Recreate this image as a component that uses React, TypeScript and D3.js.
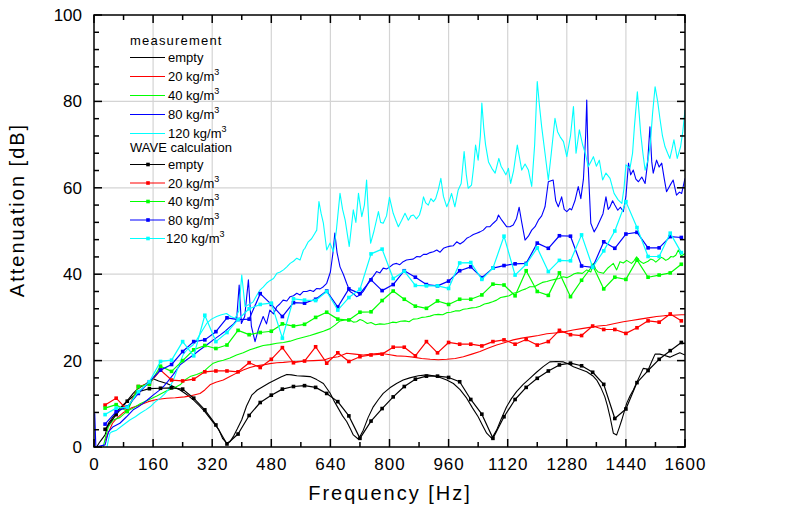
import React from 'react';
import * as d3 from 'd3';

// ---------- data ----------
const calcFreqs: number[] = d3.range(30, 1600, 30); // WAVE calculation grid: 30..1590 Hz

const calcEmpty = [4.1, 7.5, 10.6, 12.8, 13.5, 13.6, 13.7, 13.4, 11.3, 8.6,
  5.1, 0.7, 3.0, 7.3, 10.3, 12.0, 13.4, 14.0, 14.2, 13.8,
  12.4, 10.5, 7.2, 2.0, 6.0, 8.9, 11.6, 14.0, 15.7, 16.4,
  16.4, 16.1, 15.1, 11.0, 7.6, 2.0, 7.0, 11.0, 13.8, 15.9,
  17.6, 19.0, 19.4, 18.8, 17.3, 14.5, 6.6, 8.8, 14.9, 17.7,
  20.3, 22.3, 24.2];
const calc20 = [9.7, 11.3, 8.6, 14.0, 14.7, 17.8, 15.5, 15.3, 15.7, 17.4,
  17.6, 17.6, 17.4, 19.5, 18.4, 20.3, 23.0, 19.5, 19.9, 23.2,
  19.4, 21.8, 19.8, 20.9, 21.3, 21.5, 23.1, 23.1, 21.1, 24.4,
  21.8, 24.2, 23.8, 23.8, 23.4, 24.4, 24.8, 23.8, 24.9, 23.6,
  24.4, 27.0, 26.0, 25.8, 28.0, 27.2, 27.2, 26.3, 27.6, 29.2,
  28.9, 30.8, 29.2];
const calc40 = [9.0, 9.8, 8.2, 14.0, 14.5, 18.7, 17.5, 20.0, 22.5, 23.5,
  22.8, 23.6, 27.0, 26.0, 26.5, 26.8, 28.5, 28.0, 28.4, 30.0,
  31.2, 29.6, 29.4, 31.2, 31.3, 33.9, 36.1, 34.2, 32.6, 32.1,
  33.8, 33.0, 34.2, 34.2, 35.2, 37.7, 37.5, 35.0, 40.8, 36.0,
  35.1, 40.3, 34.8, 38.6, 42.0, 36.6, 39.3, 38.8, 43.3, 39.3,
  39.8, 40.3, 42.3];
const calc80 = [5.3, 8.2, 9.3, 12.4, 15.1, 17.8, 19.1, 22.1, 24.4, 24.8,
  26.7, 29.9, 29.5, 29.6, 35.5, 33.0, 30.2, 33.4, 33.3, 34.2,
  36.1, 32.4, 36.6, 35.5, 38.7, 36.2, 37.6, 40.8, 39.3, 37.6,
  37.3, 38.4, 40.8, 41.7, 39.2, 41.4, 42.0, 42.4, 42.5, 47.2,
  46.0, 48.9, 48.8, 41.9, 41.6, 47.5, 46.0, 49.3, 49.7, 46.1,
  46.1, 48.7, 48.5];
const calc120 = [7.5, 9.0, 9.2, 12.8, 15.1, 19.8, 20.1, 24.4, 21.1, 30.5,
  24.4, 26.5, 29.5, 32.0, 33.0, 33.3, 25.2, 34.3, 34.0, 33.9,
  36.0, 31.7, 34.6, 36.5, 44.7, 45.8, 39.0, 40.7, 37.4, 37.3,
  37.3, 36.7, 42.6, 42.7, 38.8, 41.4, 48.8, 39.8, 42.3, 46.1,
  40.6, 43.2, 43.1, 49.1, 41.6, 45.4, 50.0, 56.8, 50.8, 44.1,
  44.1, 49.5, 45.0];

// measurement: [frequency Hz, attenuation dB]
const measEmpty: [number, number][] = [[7,0],[16,1.2],[30,2.8],[39,5.5],[52,7.0],[70,9.0],[88,10.5],[106,12.4],[120,13.6],[140,14.6],[160,15.8],[175,15.3],[197,14.7],[215,14.0],[233,13.2],[250,12.2],[269,10.9],[285,9.6],[300,8.2],[320,6.0],[338,4.0],[348,2.0],[359,0.9],[368,1.2],[377,2.4],[388,4.2],[400,6.3],[413,9.5],[427,12.0],[442,13.2],[458,14.0],[474,14.8],[490,15.5],[506,16.2],[522,16.8],[535,16.7],[549,16.5],[567,16.4],[585,16.3],[603,15.6],[621,14.7],[639,12.5],[651,10.5],[661,9.0],[673,7.2],[684,5.9],[694,4.2],[702,2.8],[716,1.8],[729,3.9],[742,6.8],[756,9.3],[770,11.0],[783,12.4],[801,13.7],[819,14.7],[837,15.5],[855,16.0],[878,16.5],[901,16.7],[919,16.5],[937,16.1],[955,15.5],[973,14.7],[991,13.3],[1009,11.3],[1025,9.0],[1040,7.0],[1052,5.0],[1063,3.2],[1077,2.0],[1090,3.9],[1103,6.6],[1117,9.3],[1130,11.2],[1144,12.8],[1162,14.5],[1180,15.9],[1198,17.3],[1216,18.6],[1234,19.7],[1252,19.8],[1271,19.7],[1285,19.2],[1298,18.6],[1316,18.0],[1334,17.4],[1350,16.5],[1361,15.5],[1372,13.8],[1383,11.6],[1390,9.5],[1397,7.0],[1406,3.2],[1415,2.8],[1422,4.5],[1429,6.3],[1442,10.1],[1451,11.8],[1460,13.2],[1474,15.8],[1487,18.2],[1501,18.0],[1510,19.8],[1519,21.5],[1532,21.5],[1545,21.2],[1559,20.8],[1572,21.3],[1586,21.8],[1600,21.3]];

const meas20: [number, number][] = [[30,1.5],[40,3.5],[50,5.5],[60,6.5],[80,8.0],[100,9.0],[124,9.7],[147,10.5],[170,11.0],[197,11.3],[220,11.4],[245,11.6],[265,11.9],[287,12.4],[300,13.2],[314,14.4],[330,15.0],[350,15.5],[368,16.3],[386,17.1],[404,17.8],[422,18.4],[440,18.8],[458,19.0],[476,19.3],[495,19.5],[513,19.6],[531,19.75],[549,19.8],[567,19.9],[594,20.0],[621,20.1],[639,20.6],[661,20.9],[684,21.7],[706,21.5],[729,21.3],[751,21.5],[774,21.7],[797,21.4],[819,21.1],[842,21.0],[864,20.8],[887,20.5],[910,20.3],[932,20.2],[955,20.3],[978,20.5],[1000,20.9],[1023,21.5],[1045,22.1],[1068,22.9],[1090,23.6],[1113,24.2],[1135,24.8],[1158,25.2],[1180,25.5],[1203,25.8],[1226,26.2],[1248,26.4],[1270,26.6],[1297,27.1],[1320,27.4],[1342,27.7],[1365,28.0],[1388,28.2],[1410,28.6],[1433,29.0],[1455,29.3],[1478,29.6],[1500,29.9],[1523,30.2],[1545,30.4],[1568,30.5],[1590,30.6],[1600,30.6]];

const meas40: [number, number][] = [[25,0],[32,2.5],[39,4.7],[52,6.25],[70,6.8],[88,8.2],[106,9.0],[125,10.0],[150,11.0],[170,11.8],[197,13.0],[215,13.6],[233,14.4],[246,15.5],[260,16.3],[278,16.8],[296,17.4],[310,18.5],[323,19.4],[336,19.8],[350,20.1],[368,20.6],[386,21.3],[404,21.8],[422,22.5],[440,23.0],[458,23.5],[476,23.7],[495,24.0],[513,24.2],[531,24.5],[549,25.0],[567,25.4],[585,25.8],[603,26.3],[621,26.8],[639,27.4],[652,28.2],[666,29.2],[680,29.4],[693,29.4],[702,28.9],[711,29.0],[720,29.5],[729,29.2],[740,28.6],[750,28.8],[762,28.3],[774,28.5],[786,28.4],[797,28.6],[808,28.9],[819,28.8],[830,29.1],[842,29.2],[853,29.0],[864,29.6],[876,29.7],[887,30.0],[898,30.1],[910,30.3],[921,30.6],[932,30.7],[944,30.6],[955,31.1],[966,31.2],[978,31.5],[989,31.5],[1000,31.9],[1011,32.0],[1023,32.2],[1034,32.3],[1045,32.6],[1057,33.1],[1068,33.3],[1079,33.6],[1090,34.0],[1101,34.6],[1113,34.8],[1124,35.0],[1135,35.6],[1147,35.8],[1158,36.3],[1169,36.6],[1180,37.1],[1192,37.1],[1203,37.6],[1214,38.1],[1226,38.3],[1237,38.6],[1248,38.8],[1259,39.0],[1270,39.4],[1280,39.2],[1290,39.6],[1300,40.1],[1310,40.3],[1322,40.2],[1334,41.0],[1345,40.5],[1352,42.5],[1358,41.2],[1365,40.5],[1379,40.2],[1392,41.5],[1399,42.0],[1406,42.5],[1415,41.0],[1424,42.9],[1433,42.6],[1442,43.2],[1455,42.5],[1462,43.1],[1469,44.0],[1478,43.0],[1487,42.5],[1500,43.0],[1507,43.5],[1514,43.3],[1521,42.8],[1528,43.3],[1535,43.9],[1541,43.7],[1548,43.2],[1555,43.5],[1562,44.1],[1568,44.0],[1575,44.4],[1582,45.6],[1590,44.2],[1600,44.8]];

const meas80: [number, number][] = [[2,7.8],[5,0],[30,0.5],[39,3.5],[52,4.7],[70,5.5],[88,7.0],[106,8.6],[120,9.3],[133,10.1],[146,11.0],[160,12.0],[175,13.0],[188,14.0],[200,15.2],[215,16.8],[233,19.0],[251,20.2],[269,21.3],[287,22.5],[305,23.6],[323,24.8],[341,25.9],[355,26.8],[368,27.8],[378,28.5],[386,29.4],[393,37.5],[399,28.6],[408,30.2],[418,38.7],[426,28.0],[436,24.4],[446,27.5],[458,30.2],[467,28.5],[476,31.7],[486,30.8],[495,32.5],[503,33.1],[512,34.0],[522,33.8],[531,34.8],[540,35.0],[549,35.6],[558,35.2],[567,36.0],[576,36.0],[585,36.3],[594,36.0],[603,36.7],[612,36.6],[621,37.1],[630,37.9],[640,40.5],[647,45.0],[652,49.5],[658,45.0],[666,41.7],[675,40.0],[684,37.9],[693,36.0],[702,35.5],[711,34.8],[720,35.2],[729,36.0],[738,37.3],[747,38.7],[756,39.5],[765,40.6],[774,40.3],[783,41.4],[792,41.2],[801,41.7],[810,42.3],[819,42.5],[828,42.2],[837,42.9],[846,43.3],[855,43.4],[864,43.5],[874,44.1],[883,44.0],[892,44.6],[901,44.6],[910,45.0],[919,45.2],[928,45.6],[937,45.1],[946,46.0],[955,46.3],[964,46.5],[973,46.6],[982,47.5],[991,47.0],[1000,47.5],[1009,48.3],[1018,48.7],[1027,49.2],[1036,49.5],[1045,49.8],[1054,50.2],[1063,51.0],[1072,51.0],[1081,51.8],[1090,52.5],[1095,53.7],[1104,52.5],[1117,51.0],[1126,51.0],[1135,51.4],[1144,52.9],[1151,55.5],[1158,52.0],[1167,47.9],[1176,48.8],[1185,50.2],[1194,51.0],[1203,52.5],[1212,53.5],[1221,55.6],[1230,61.4],[1243,61.8],[1250,57.0],[1257,55.6],[1266,57.9],[1273,55.0],[1280,54.5],[1288,55.2],[1293,54.9],[1302,57.0],[1311,60.3],[1318,57.5],[1325,62.0],[1331,72.0],[1334,80.3],[1338,65.0],[1345,51.8],[1354,49.8],[1362,51.0],[1370,52.5],[1378,54.0],[1386,57.9],[1392,55.0],[1397,55.6],[1404,57.0],[1410,56.0],[1418,54.8],[1425,55.5],[1433,54.5],[1440,58.0],[1447,65.7],[1453,63.0],[1460,64.1],[1467,62.0],[1474,61.4],[1483,62.5],[1492,61.0],[1499,66.0],[1505,74.1],[1510,66.0],[1514,63.4],[1523,66.4],[1530,64.8],[1537,65.7],[1544,62.0],[1550,59.1],[1559,60.5],[1568,61.8],[1577,58.3],[1585,59.0],[1591,58.7],[1600,62.2]];

const meas120: [number, number][] = [[35,0],[43,3.2],[48,3.5],[61,3.9],[79,5.1],[97,6.25],[112,7.0],[125,7.8],[140,8.6],[152,9.3],[165,10.4],[179,11.3],[190,12.2],[201,13.2],[215,15.5],[228,18.5],[242,21.5],[255,22.8],[268,23.6],[278,24.8],[290,26.5],[305,28.6],[318,29.6],[332,30.2],[345,30.6],[359,30.9],[370,30.2],[382,29.8],[392,31.5],[400,39.8],[409,32.5],[420,33.0],[431,33.6],[440,35.0],[449,36.3],[458,37.0],[467,37.9],[476,38.5],[486,39.0],[495,40.2],[504,40.5],[513,41.0],[522,41.7],[531,42.5],[540,43.0],[549,43.7],[558,43.3],[567,45.6],[571,46.0],[580,47.5],[589,48.2],[598,49.5],[603,50.2],[609,56.8],[615,54.0],[621,51.8],[630,45.6],[639,47.2],[648,45.2],[656,50.0],[666,58.7],[673,55.0],[680,52.5],[691,46.4],[702,54.9],[709,52.0],[716,58.7],[725,53.3],[732,56.0],[738,61.8],[744,52.0],[749,47.2],[758,50.0],[770,54.5],[776,52.0],[783,51.8],[792,53.5],[800,57.8],[810,54.1],[817,52.5],[824,51.0],[833,52.5],[842,54.1],[851,52.5],[858,53.5],[865,53.7],[873,52.8],[881,53.7],[887,55.5],[892,57.9],[898,56.5],[905,56.0],[912,57.5],[919,56.8],[925,57.5],[932,59.5],[939,62.2],[946,58.0],[955,55.6],[962,57.0],[968,58.7],[977,55.6],[986,59.5],[994,61.0],[1002,68.4],[1008,63.0],[1013,59.9],[1022,60.6],[1028,65.0],[1033,69.9],[1040,66.4],[1046,72.0],[1050,79.6],[1055,74.0],[1060,70.0],[1068,66.0],[1077,64.5],[1086,63.4],[1096,66.8],[1102,65.0],[1108,64.1],[1115,63.0],[1122,64.5],[1128,61.0],[1136,64.0],[1141,67.0],[1146,69.9],[1152,67.0],[1158,64.1],[1167,65.5],[1176,64.1],[1185,60.3],[1193,70.0],[1200,84.6],[1206,79.0],[1212,74.1],[1221,68.0],[1230,61.8],[1238,68.0],[1248,76.1],[1255,73.0],[1262,71.8],[1271,70.7],[1280,67.2],[1290,72.0],[1298,78.8],[1305,68.0],[1314,73.4],[1323,69.9],[1330,68.0],[1338,64.9],[1345,66.0],[1352,67.2],[1360,65.0],[1368,66.4],[1377,61.8],[1386,63.4],[1397,62.2],[1408,58.7],[1419,57.2],[1429,56.4],[1435,60.0],[1440,65.3],[1451,64.5],[1458,68.0],[1463,74.1],[1471,82.2],[1476,77.0],[1480,72.6],[1486,68.0],[1492,64.1],[1500,66.5],[1506,70.0],[1512,77.0],[1519,83.4],[1526,80.0],[1532,76.1],[1539,72.0],[1546,69.5],[1553,68.0],[1559,66.8],[1565,69.0],[1570,71.1],[1579,66.8],[1588,69.5],[1594,73.0],[1600,78.0]];

const xTickValues = [0, 160, 320, 480, 640, 800, 960, 1120, 1280, 1440, 1600];
const yTickValues = [0, 20, 40, 60, 80, 100];
const seriesLabels = ['empty', '20 kg/m', '40 kg/m', '80 kg/m', '120 kg/m'];
const seriesColors = ['#000000', '#ff0000', '#00ff00', '#0000ff', '#00ffff'];

// ---------- chart ----------
const FONT = 'Arial, "Liberation Sans", Helvetica, sans-serif';

export default function App() {
  const W = 799, H = 531;
  const left = 94, right = 685, top = 15, bottom = 447;
  const x = d3.scaleLinear().domain([0, 1600]).range([left, right]);
  const y = d3.scaleLinear().domain([0, 100]).range([bottom, top]);
  const line = d3.line<[number, number]>().x(d => x(d[0])).y(d => y(d[1]));

  const measData = [measEmpty, meas20, meas40, meas80, meas120];
  const calcValues = [calcEmpty, calc20, calc40, calc80, calc120];
  const calcData: [number, number][][] = calcValues.map(vals => calcFreqs.map((f, i) => [f, vals[i]] as [number, number]));

  const xMinor = d3.range(80, 1600, 160);
  const yMinor = d3.range(0, 101, 4).filter(v => v % 20 !== 0);

  const majorLen = 8, minorLen = 5;

  const hasSup = (i: number) => i > 0;

  const legendX1 = 130, legendX2 = 165, legendTextX = 168;
  const measRowY = (i: number) => 57.5 + i * 19;
  const calcRowY = (i: number) => 164.5 + i * 18.5;

  const legendText = (label: string, i: number, ty: number, tx: number) => (
    <text x={tx} y={ty + 4.5} fontSize={13} fontFamily={FONT} fill="#000">
      {label}
      {hasSup(i) && <tspan dy={-6} fontSize={9}>3</tspan>}
    </text>
  );

  return (
    <svg width={W} height={H} style={{ position: 'absolute', left: 0, top: 0, background: '#fff' }}>
      <rect x={0} y={0} width={W} height={H} fill="#fff" />
      <defs>
        <clipPath id="plotClip">
          <rect x={left} y={top} width={right - left} height={bottom - top} />
        </clipPath>
      </defs>

      {/* grid */}
      <g stroke="#d4d4d4" strokeWidth={1.2}>
        {xTickValues.filter(v => v > 0 && v < 1600).map(v => (
          <line key={'gx' + v} x1={x(v)} x2={x(v)} y1={top} y2={bottom} />
        ))}
        {yTickValues.filter(v => v > 0 && v < 100).map(v => (
          <line key={'gy' + v} x1={left} x2={right} y1={y(v)} y2={y(v)} />
        ))}
      </g>

      {/* series */}
      <g clipPath="url(#plotClip)" fill="none">
        {measData.map((d, i) => (
          <path key={'m' + i} d={line(d) || ''} stroke={seriesColors[i]} strokeWidth={1.1} strokeLinejoin="round" />
        ))}
        {calcData.map((d, i) => (
          <g key={'c' + i}>
            <path d={line(d) || ''} stroke={seriesColors[i]} strokeWidth={1.2} strokeLinejoin="round" />
            {d.map((p, j) => (
              <rect key={j} x={x(p[0]) - 1.8} y={y(p[1]) - 1.8} width={3.6} height={3.6} fill={seriesColors[i]} stroke="none" />
            ))}
          </g>
        ))}
      </g>

      {/* axes frame and ticks */}
      <g stroke="#000" strokeWidth={1.5}>
        <rect x={left} y={top} width={right - left} height={bottom - top} fill="none" />
        {xTickValues.map(v => (
          <g key={'xt' + v}>
            <line x1={x(v)} x2={x(v)} y1={bottom} y2={bottom - majorLen} />
            <line x1={x(v)} x2={x(v)} y1={top} y2={top + majorLen} />
          </g>
        ))}
        {xMinor.map(v => (
          <g key={'xm' + v}>
            <line x1={x(v)} x2={x(v)} y1={bottom} y2={bottom - minorLen} />
            <line x1={x(v)} x2={x(v)} y1={top} y2={top + minorLen} />
          </g>
        ))}
        {yTickValues.map(v => (
          <g key={'yt' + v}>
            <line x1={left} x2={left + majorLen} y1={y(v)} y2={y(v)} />
            <line x1={right} x2={right - majorLen} y1={y(v)} y2={y(v)} />
          </g>
        ))}
        {yMinor.map(v => (
          <g key={'ym' + v}>
            <line x1={left} x2={left + minorLen} y1={y(v)} y2={y(v)} />
            <line x1={right} x2={right - minorLen} y1={y(v)} y2={y(v)} />
          </g>
        ))}
      </g>

      {/* tick labels */}
      <g fontFamily={FONT} fontSize={17} fill="#000">
        {xTickValues.map(v => (
          <text key={'xl' + v} x={x(v) + 0.5} y={470} textAnchor="middle" letterSpacing={1}>{v}</text>
        ))}
        {yTickValues.map(v => (
          <text key={'yl' + v} x={82} y={y(v) + 6} textAnchor="end">{v}</text>
        ))}
      </g>

      {/* axis titles */}
      <text x={390} y={500} textAnchor="middle" fontFamily={FONT} fontSize={20} letterSpacing={2} fill="#000">Frequency [Hz]</text>
      <text transform="translate(24,210) rotate(-90)" textAnchor="middle" fontFamily={FONT} fontSize={20} letterSpacing={2} fill="#000">Attenuation [dB]</text>

      {/* legend */}
      <g>
        <text x={legendX1} y={45} fontSize={13} fontFamily={FONT} letterSpacing={1.2} fill="#000">measurement</text>
        {seriesLabels.map((lab, i) => (
          <g key={'lm' + i}>
            <line x1={legendX1} x2={legendX2} y1={measRowY(i)} y2={measRowY(i)} stroke={seriesColors[i]} strokeWidth={1.1} />
            {legendText(lab, i, measRowY(i), legendTextX)}
          </g>
        ))}
        <text x={legendX1} y={152} fontSize={13} fontFamily={FONT} fill="#000">WAVE calculation</text>
        {seriesLabels.map((lab, i) => (
          <g key={'lc' + i}>
            <line x1={legendX1} x2={legendX2} y1={calcRowY(i)} y2={calcRowY(i)} stroke={seriesColors[i]} strokeWidth={1.2} />
            <rect x={(legendX1 + legendX2) / 2 + 0.5 - 1.8} y={calcRowY(i) - 1.8} width={3.6} height={3.6} fill={seriesColors[i]} />
            {legendText(lab, i, calcRowY(i), i === 4 ? legendTextX - 2 : legendTextX)}
          </g>
        ))}
      </g>
    </svg>
  );
}
